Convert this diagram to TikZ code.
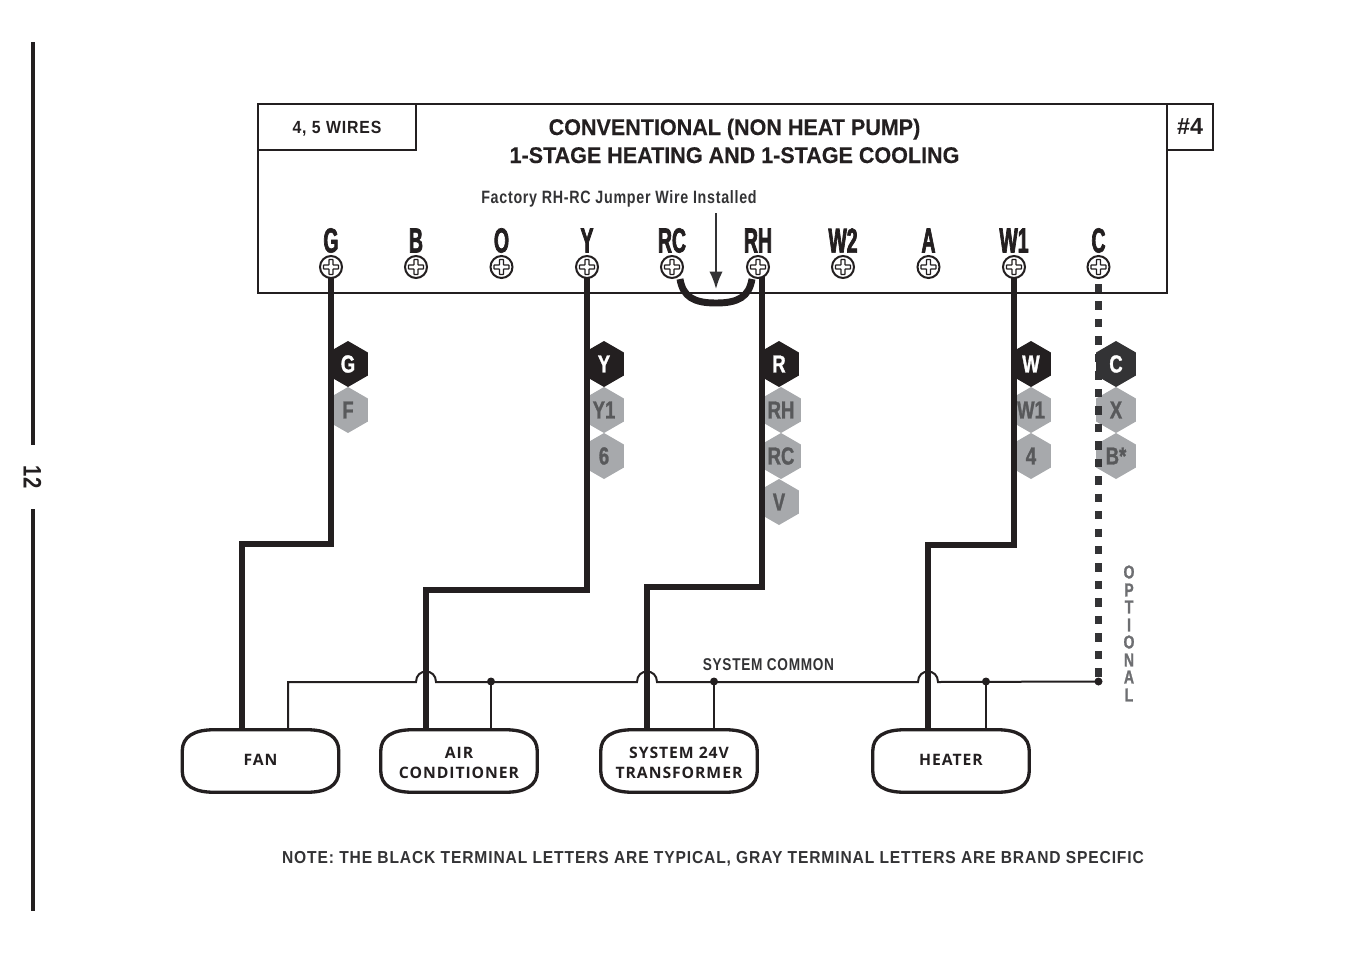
\documentclass[tikz,border=0pt]{standalone}
\usepackage{fontspec}
\setmainfont{Liberation Sans}
\usetikzlibrary{shapes.geometric,arrows.meta,calc}
\newfontfamily\termfont[FakeStretch=0.56,FakeBold=2]{Liberation Sans}
\newfontfamily\hexfont[FakeStretch=0.75,FakeBold=1.2]{Liberation Sans}
\newfontfamily\midfont[FakeStretch=0.8,LetterSpace=4]{Liberation Sans}
\newfontfamily\notefont[FakeStretch=0.9,LetterSpace=5]{Liberation Sans}
\newfontfamily\titlefont[FakeStretch=0.95,FakeBold=0.3]{Liberation Sans}
\newfontfamily\pagefont[FakeStretch=0.8]{Liberation Sans}
\newfontfamily\devfont[LetterSpace=6]{Open Sans}
\definecolor{inkblack}{HTML}{231F20}
\definecolor{hexgray}{HTML}{A7A9AC}
\definecolor{hextext}{HTML}{58595B}
\definecolor{softink}{HTML}{333335}
\definecolor{optgray}{HTML}{6D6E71}
\tikzset{
  txt/.style={inner sep=0pt,text=inkblack,font=\bfseries},
  framebox/.style={draw=inkblack,line width=1.9pt,inner sep=0pt},
  screw/.style={circle,draw=inkblack,fill=white,line width=1.5pt,minimum size=16.5pt,inner sep=0pt,
    path picture={\draw[inkblack,line width=.9pt,rounded corners=.4pt]
      ($(path picture bounding box.center)+(-2,-7.5)$) -- ++(4,0) -- ++(0,5.5) -- ++(5.5,0) -- ++(0,4) -- ++(-5.5,0) -- ++(0,5.5) -- ++(-4,0) -- ++(0,-5.5) -- ++(-5.5,0) -- ++(0,-4) -- ++(5.5,0) -- cycle;}},
  termlabel/.style={inner sep=0pt,text=inkblack,font=\termfont\bfseries\fontsize{26}{26}\selectfont},
  hexdark/.style={regular polygon,regular polygon sides=6,shape border rotate=90,minimum size=34.5pt,inner sep=0pt,fill=inkblack,text=white,font=\hexfont\bfseries\fontsize{18.5}{18.5}\selectfont},
  hexlight/.style={hexdark,fill=hexgray,text=hextext},
  wire/.style={draw=inkblack,line width=5.2pt,miter limit=10},
  dashwire/.style={draw=softink,line width=5.2pt,dash pattern=on 6.3pt off 6.8pt,dash phase=8.6pt},
  thinwire/.style={draw=inkblack,line width=1.5pt},
  junction/.style={circle,fill=inkblack,minimum size=6pt,inner sep=0pt},
  device/.style={minimum width=117pt,minimum height=46.5pt,inner sep=0pt},
  devtext/.style={inner sep=0pt,align=center,text=inkblack,font=\devfont\bfseries\fontsize{11.8}{15}\selectfont},
  devline/.style={draw=inkblack,line width=2.5pt},
}
\newcommand\devshape[1]{\draw[devline]
  ([xshift=24pt]#1.north west) -- ([xshift=-24pt]#1.north east)
  .. controls ([xshift=-9pt]#1.north east) and ([yshift=-5pt]#1.north east) .. ([yshift=-16pt]#1.north east)
  -- ([yshift=16pt]#1.south east)
  .. controls ([yshift=5pt]#1.south east) and ([xshift=-9pt]#1.south east) .. ([xshift=-24pt]#1.south east)
  -- ([xshift=24pt]#1.south west)
  .. controls ([xshift=9pt]#1.south west) and ([yshift=5pt]#1.south west) .. ([yshift=16pt]#1.south west)
  -- ([yshift=-16pt]#1.north west)
  .. controls ([yshift=-5pt]#1.north west) and ([xshift=9pt]#1.north west) .. ([xshift=24pt]#1.north west) -- cycle;}
\begin{document}
\begin{tikzpicture}[x=0.75pt,y=-0.75pt]
\useasboundingbox (0,0) rectangle (1347,954);
% page bar
\coordinate (barA) at (33,42); \coordinate (barB) at (33,445);
\coordinate (barC) at (33,509); \coordinate (barD) at (33,911);
\draw[inkblack,line width=3pt] (barA) -- (barB) (barC) -- (barD);
\node[txt,rotate=-90,font=\pagefont\bfseries\fontsize{19}{19}\selectfont] (page) at (32.5,477) {12};
% frame
\node[framebox,minimum width=681.7pt,minimum height=141.7pt] (frame) at (712.5,198.5) {};
\node[framebox,minimum width=118.5pt,minimum height=34.5pt] (wiresbox) at (337,127) {};
\node[framebox,minimum width=34.5pt,minimum height=34.5pt] (numbox) at (1190,127) {};
\node[txt,anchor=base,font=\notefont\bfseries\fontsize{13.2}{13.2}\selectfont] (wirestxt) at (337,133.5) {4, 5 WIRES};
\node[txt,anchor=base,font=\bfseries\fontsize{17.5}{17.5}\selectfont] (numtxt) at (1190,134) {\#4};
\node[txt,anchor=base,font=\titlefont\bfseries\fontsize{17}{17}\selectfont] (title1) at (734.5,135) {CONVENTIONAL (NON HEAT PUMP)};
\node[txt,anchor=base,font=\titlefont\bfseries\fontsize{17}{17}\selectfont] (title2) at (734.5,163) {1-STAGE HEATING AND 1-STAGE COOLING};
\node[txt,anchor=base,font=\midfont\bfseries\fontsize{13.4}{13.4}\selectfont,text=softink] (factory) at (619,203.5) {Factory RH-RC Jumper Wire Installed};
% hexagons
\foreach \nm/\x/\y/\t in {hG/348/364/G,hY/604/364/Y,hR/779/364/R,hW/1031/364/W}
  \node[hexdark] (\nm) at (\x,\y) {\t};
\node[hexdark,fill=softink] (hC) at (1116,364) {C};
\foreach \nm/\x/\y/\t in {hF/348/410/F,hYa/604/410/Y1,hSix/604/456/6,hRH/781/410/RH,hRC/781/456/RC,hV/779/502/V,hWa/1031/410/W1,hFour/1031/456/4,hX/1116/410/X,hB/1116/456/B*}
  \node[hexlight] (\nm) at (\x,\y) {\t};
% devices
\node[device] (fan) at (260.5,761) {};
\node[device] (ac) at (459,761) {};
\node[device] (xfmr) at (679,761) {};
\node[device] (heater) at (951,761) {};
\devshape{fan}\devshape{ac}\devshape{xfmr}\devshape{heater}
\node[devtext] (fanT) at (260.5,759.5) {FAN};
\node[devtext] (acT) at (459,762.5) {AIR\\CONDITIONER};
\node[devtext] (xfmrT) at (679,762.5) {SYSTEM 24V\\TRANSFORMER};
\node[devtext] (heaterT) at (951,759.5) {HEATER};
% terminals
\foreach \n/\x in {G/331,B/416,O/501.5,Y/587,RC/672,RH/758,W2/843,A/928.5,W1/1014,C/1098.5}{
  \node[termlabel] (t\n) at (\x,240.5) {\n};
  \coordinate (p\n) at (\x,267);
}
% bends
\coordinate (cG) at (242,544);
\coordinate (cY) at (426,590);
\coordinate (cR) at (647,587);
\coordinate (cW) at (928,545);
\draw[wire] (pG) |- (cG) -- (cG |- fan.north);
\draw[wire] (pY) |- (cY) -- (cY |- ac.north);
\draw[wire] (762,272) |- (cR) -- (cR |- xfmr.north);
\draw[wire] (pW1) |- (cW) -- (cW |- heater.north);
\draw[wire] (pRC) ++(8,12) .. controls ++(3,18) and ++(-22,0) .. (716,303) .. controls ++(22,0) and ++(-3,18) .. ($(pRH)+(-6,12)$);
\draw[dashwire] (1098.5,278) -- (1098.5,681.5);
\foreach \n/\x in {G/331,B/416,O/501.5,Y/587,RC/672,RH/758,W2/843,A/928.5,W1/1014,C/1098.5}{
  \node[screw] (s\n) at (\x,267) {};
}
% jumper note arrow
\coordinate (arA) at (716,213); \coordinate (arB) at (716,289);
\draw[draw=softink,line width=1.5pt,-{Latex[length=13pt,width=10pt]}] (arA) -- (arB);
% common
\node[junction] (jA) at (491,681.5) {};
\node[junction] (jX) at (714,681.5) {};
\node[junction] (jH) at (986,681.5) {};
\node[junction] (jC) at (1098.5,681.5) {};
\coordinate (cF) at (288,682);
\draw[thinwire] (cF |- fan.north) -- (cF) -- (416,682)
  .. controls (416,668) and (436,668) .. (436,682) -- (637,682)
  .. controls (637,668) and (657,668) .. (657,682) -- (918,682)
  .. controls (918,668) and (938,668) .. (938,682) -- (jC.center);
\draw[thinwire] (jA.center) -- (jA |- ac.north);
\draw[thinwire] (jX.center) -- (jX |- xfmr.north);
\draw[thinwire] (jH.center) -- (jH |- heater.north);
\node[txt,font=\midfont\bfseries\fontsize{12.8}{12.8}\selectfont,text=softink] (common) at (768.5,665) {SYSTEM COMMON};
% optional
\foreach \c/\y in {O/572,P/590,T/607,I/625,O/642,N/660,A/677,L/695}
  \node[txt,font=\hexfont\bfseries\fontsize{14}{14}\selectfont,text=optgray] at (1129,\y) {\c};
% note
\node[txt,anchor=base,font=\notefont\bfseries\fontsize{13}{13}\selectfont,text=softink] (note) at (713,863.5) {NOTE: THE BLACK TERMINAL LETTERS ARE TYPICAL, GRAY TERMINAL LETTERS ARE BRAND SPECIFIC};
\end{tikzpicture}
\end{document}
